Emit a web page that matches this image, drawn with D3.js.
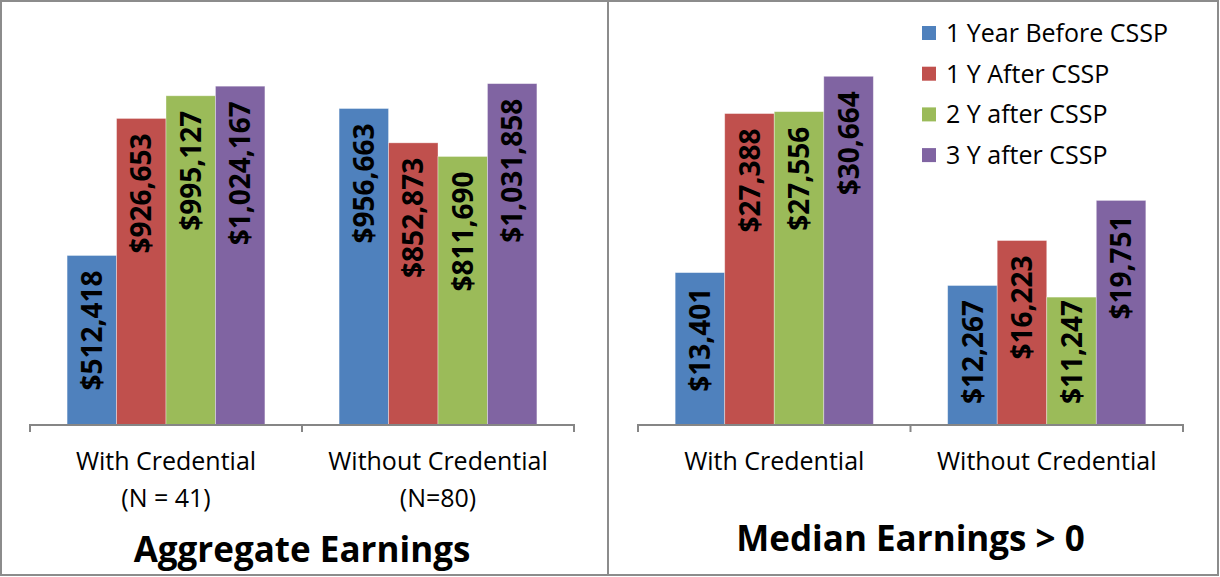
<!DOCTYPE html>
<html>
<head>
<meta charset="utf-8">
<script src="https://cdn.jsdelivr.net/npm/d3@7"></script>
<style>
  html, body { margin: 0; padding: 0; background: #fff; }
  svg { display: block; font-family: "Open Sans", sans-serif; }
</style>
</head>
<body>
<svg id="chart" width="1220" height="577"></svg>
<script>
// ---- data ----
const seriesNames = ["1 Year Before CSSP", "1 Y After CSSP", "2 Y after CSSP", "3 Y after CSSP"];
const seriesColors = ["#4F81BD", "#C0504D", "#9BBB59", "#8064A2"];

const aggCategories = ["With Credential", "Without Credential"];
const aggSubLabels = ["(N = 41)", "(N=80)"];
const aggBefore1 = [512418, 956663];
const aggAfter1 = [926653, 852873];
const aggAfter2 = [995127, 811690];
const aggAfter3 = [1024167, 1031858];
const aggTitle = "Aggregate Earnings";

const medCategories = ["With Credential", "Without Credential"];
const medBefore1 = [13401, 12267];
const medAfter1 = [27388, 16223];
const medAfter2 = [27556, 11247];
const medAfter3 = [30664, 19751];
const medTitle = "Median Earnings > 0";

const fmt = d3.format("$,.0f");

const svg = d3.select("#chart");

// frames
svg.append("rect").attr("x", 1).attr("y", 1).attr("width", 1217).attr("height", 574)
  .attr("fill", "none").attr("stroke", "#8c8c8c").attr("stroke-width", 2);
svg.append("line").attr("x1", 608).attr("x2", 608).attr("y1", 1).attr("y2", 575)
  .attr("stroke", "#8c8c8c").attr("stroke-width", 2);

function drawPanel(opts) {
  const { categories, subLabels, values, yMax, xRange, yRange, title, titleY } = opts;
  const g = svg.append("g");
  const x0 = d3.scaleBand().domain(categories).range(xRange).padding(0);
  const x1 = d3.scaleBand().domain(seriesNames).range([0, x0.bandwidth()])
    .paddingInner(0).paddingOuter(0.75);
  const y = d3.scaleLinear().domain([0, yMax]).range(yRange);

  const rows = [];
  categories.forEach((c, ci) => {
    seriesNames.forEach((s, si) => {
      rows.push({ cat: c, ser: s, si, v: values[si][ci] });
    });
  });

  g.selectAll("rect.bar").data(rows).join("rect")
    .attr("class", "bar")
    .attr("x", d => x0(d.cat) + x1(d.ser))
    .attr("width", x1.bandwidth())
    .attr("y", d => y(d.v))
    .attr("height", d => y(0) - y(d.v))
    .attr("fill", d => seriesColors[d.si])
    .attr("stroke", "rgba(255,255,255,0.45)")
    .attr("stroke-width", 0.8);

  // value labels, rotated, inside end
  const base = y(0);
  g.selectAll("text.val").data(rows).join("text")
    .attr("class", "val")
    .attr("font-size", 28)
    .attr("font-weight", "bold")
    .attr("fill", "#000")
    .attr("text-anchor", "end")
    .attr("dy", "0.36em")
    .text(d => fmt(d.v))
    .each(function(d) {
      const len = this.getComputedTextLength();
      let endY = y(d.v) + 15;
      if (endY + len > base - 21) endY = base - 21 - len;
      const cx = x0(d.cat) + x1(d.ser) + x1.bandwidth() / 2;
      d3.select(this).attr("transform", `translate(${cx},${endY}) rotate(-90)`);
    });

  // axis
  const axis = d3.axisBottom(x0).tickSize(0).tickFormat("");
  const ag = g.append("g").attr("transform", `translate(0,${base})`).call(axis);
  ag.select(".domain").attr("stroke", "#868686").attr("stroke-width", 2)
    .attr("d", `M${xRange[0]},7V0H${xRange[1]}V7`);
  ag.selectAll(".tick").remove();
  // category separator ticks
  const bounds = [xRange[0]].concat(categories.map(c => x0(c) + x0.bandwidth()));
  g.selectAll("line.sep").data(bounds.slice(1, -1)).join("line")
    .attr("class", "sep")
    .attr("x1", d => d).attr("x2", d => d)
    .attr("y1", base).attr("y2", base + 7)
    .attr("stroke", "#868686").attr("stroke-width", 2);

  // category labels
  g.selectAll("text.cat").data(categories).join("text")
    .attr("class", "cat")
    .attr("x", d => x0(d) + x0.bandwidth() / 2)
    .attr("y", 470)
    .attr("text-anchor", "middle")
    .attr("font-size", 25)
    .attr("fill", "#000")
    .text(d => d);
  if (subLabels) {
    g.selectAll("text.sub").data(subLabels).join("text")
      .attr("class", "sub")
      .attr("x", (d, i) => x0(categories[i]) + x0.bandwidth() / 2)
      .attr("y", 507)
      .attr("text-anchor", "middle")
      .attr("font-size", 25)
      .attr("fill", "#000")
      .text(d => d);
  }

  g.append("text")
    .attr("x", (xRange[0] + xRange[1]) / 2)
    .attr("y", titleY)
    .attr("text-anchor", "middle")
    .attr("font-size", 35)
    .attr("font-weight", "bold")
    .attr("fill", "#000")
    .text(title);
}

drawPanel({
  categories: aggCategories,
  subLabels: aggSubLabels,
  values: [aggBefore1, aggAfter1, aggAfter2, aggAfter3],
  yMax: 1200000,
  xRange: [30, 574],
  yRange: [425, 28],
  title: aggTitle,
  titleY: 562
});

drawPanel({
  categories: medCategories,
  subLabels: null,
  values: [medBefore1, medAfter1, medAfter2, medAfter3],
  yMax: 35000,
  xRange: [638, 1183],
  yRange: [425, 27],
  title: medTitle,
  titleY: 551
});

// legend
const legend = svg.append("g");
const legRows = legend.selectAll("g").data(seriesNames).join("g")
  .attr("transform", (d, i) => `translate(922, ${33 + i * 40.7})`);
legRows.append("rect")
  .attr("x", 0).attr("y", -7).attr("width", 14).attr("height", 14)
  .attr("fill", (d, i) => seriesColors[i]);
legRows.append("text")
  .attr("x", 24).attr("y", 0).attr("dy", "0.36em")
  .attr("font-size", 25).attr("fill", "#000")
  .text(d => d);
</script>
</body>
</html>
